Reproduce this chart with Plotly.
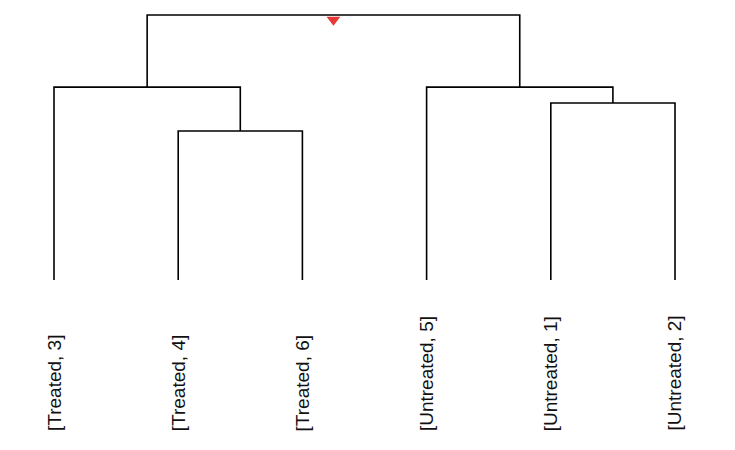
import plotly.graph_objects as go

# Leaves (in display order)
leaf_labels = ["[Treated, 3]", "[Treated, 4]", "[Treated, 6]",
               "[Untreated, 5]", "[Untreated, 1]", "[Untreated, 2]"]
# Merges (scipy-like: node ids >= n refer to earlier merges)
merge_left = [1, 4, 0, 3, 8]
merge_right = [2, 5, 6, 7, 9]
merge_height = [0.562, 0.668, 0.728, 0.728, 1.0]

n = len(leaf_labels)
pos = {i: float(i) for i in range(n)}
hgt = {i: 0.0 for i in range(n)}

xs, ys = [], []
for k, (a, b, h) in enumerate(zip(merge_left, merge_right, merge_height)):
    node = n + k
    xs += [pos[a], pos[a], pos[b], pos[b], None]
    ys += [hgt[a], h, h, hgt[b], None]
    pos[node] = (pos[a] + pos[b]) / 2
    hgt[node] = h

root = n + len(merge_height) - 1

fig = go.Figure()
fig.add_trace(go.Scatter(x=xs, y=ys, mode="lines",
                         line=dict(color="black", width=1.6),
                         hoverinfo="skip", showlegend=False))
fig.add_trace(go.Scatter(x=[pos[root]], y=[hgt[root] - 0.018], mode="markers",
                         marker=dict(symbol="triangle-down", size=12, color="#e53935",
                                     line=dict(width=0)),
                         hoverinfo="skip", showlegend=False))

for i, lab in enumerate(leaf_labels):
    fig.add_annotation(x=i, y=-0.5774, xref="x", yref="y", text=lab,
                       textangle=-90, showarrow=False,
                       xanchor="center", yanchor="bottom",
                       font=dict(family="Liberation Sans, Arial", size=19, color="#111"))

fig.update_layout(
    width=735, height=450,
    margin=dict(l=0, r=0, t=0, b=0),
    paper_bgcolor="white", plot_bgcolor="white",
    xaxis=dict(range=[-46 / 124.2, (735 - 46) / 124.2], visible=False, fixedrange=True),
    yaxis=dict(range=[-178 / 265, 1 + 7 / 265], visible=False, fixedrange=True),
)
fig.write_html("out.html")
